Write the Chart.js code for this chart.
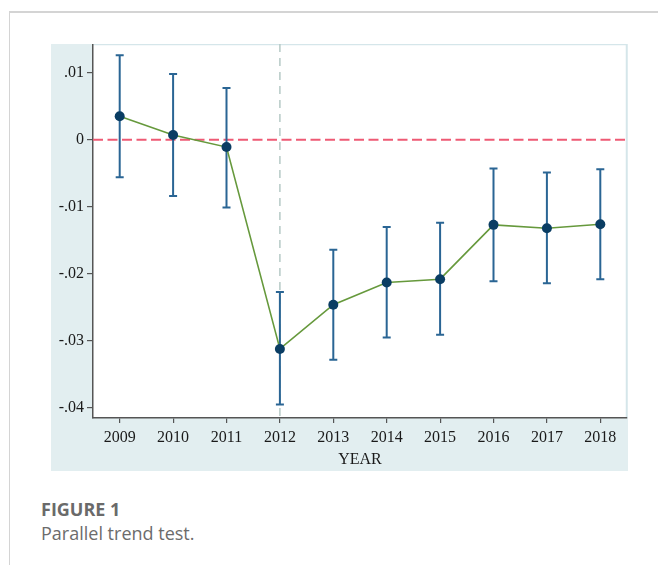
<!DOCTYPE html>
<html>
<head>
<meta charset="utf-8">
<script src="https://cdn.jsdelivr.net/npm/chart.js@4.4.1/dist/chart.umd.min.js"></script>
<style>
  html, body { margin: 0; padding: 0; background: #fff; width: 658px; height: 565px; overflow: hidden; }
  .frame { position: absolute; left: 9px; top: 11px; width: 649px; height: 554px;
           border-left: 1.5px solid #d4d4d4; border-top: 2px solid #d4d4d4; box-sizing: border-box; }
  .panel { position: absolute; left: 51px; top: 44px; width: 577px; height: 427px; background: #e2eef0; }
  #chart { position: absolute; left: 0; top: 0; }
  .caption { position: absolute; left: 41px; top: 497px; font-family: "Open Sans", Lato, sans-serif;
             font-size: 18px; line-height: 24px; color: #6c6c6c; }
  .caption b { color: #6a6a6a; font-weight: 700; }
</style>
</head>
<body>
<div class="frame"></div>
<div class="panel"><canvas id="chart" width="577" height="427"></canvas></div>
<div class="caption"><b>FIGURE 1</b><br>Parallel trend test.</div>

<script>
// Event-study coefficients by year with 95% confidence intervals
const years     = [2009, 2010, 2011, 2012, 2013, 2014, 2015, 2016, 2017, 2018];
const estimates = [0.0035, 0.0007, -0.0011, -0.0312, -0.0246, -0.0213, -0.0208, -0.0127, -0.0132, -0.0126];
const ciUpper   = [0.0126, 0.0098, 0.0077, -0.0227, -0.0164, -0.0130, -0.0124, -0.0043, -0.0049, -0.0044];
const ciLower   = [-0.0056, -0.0084, -0.0101, -0.0395, -0.0328, -0.0295, -0.0291, -0.0211, -0.0214, -0.0208];

const yTickValues = [-0.04, -0.03, -0.02, -0.01, 0, 0.01];
const yTickLabels = ['-.04', '-.03', '-.02', '-.01', '0', '.01'];
const policyYear  = 2012;
const xTitle      = 'YEAR';

const serif = "'Liberation Serif', 'Times New Roman', serif";

// White plotting region inside the tinted panel
const plotBackground = {
  id: 'plotBackground',
  beforeDraw(chart) {
    const { ctx, chartArea: a } = chart;
    ctx.save();
    ctx.fillStyle = '#ffffff';
    ctx.fillRect(a.left, a.top, a.right - a.left, a.bottom - a.top);
    ctx.strokeStyle = '#d5e6ea';
    ctx.lineWidth = 1.5;
    ctx.beginPath();
    ctx.moveTo(a.left, a.top + 0.5);
    ctx.lineTo(a.right - 0.5, a.top + 0.5);
    ctx.lineTo(a.right - 0.5, a.bottom);
    ctx.stroke();
    ctx.restore();
  }
};

// Zero reference line, policy-year marker and confidence-interval caps
const referenceAndErrors = {
  id: 'referenceAndErrors',
  beforeDatasetsDraw(chart) {
    const { ctx, chartArea: a, scales: { x, y } } = chart;
    ctx.save();

    const xp = x.getPixelForValue(policyYear);
    ctx.strokeStyle = '#b6cac6';
    ctx.lineWidth = 1.5;
    ctx.setLineDash([8, 6]);
    ctx.beginPath();
    ctx.moveTo(xp, a.top);
    ctx.lineTo(xp, a.bottom);
    ctx.stroke();

    const y0 = y.getPixelForValue(0);
    ctx.strokeStyle = '#ee5a74';
    ctx.lineWidth = 2;
    ctx.setLineDash([10, 4.5]);
    ctx.beginPath();
    ctx.moveTo(a.left, y0);
    ctx.lineTo(a.right, y0);
    ctx.stroke();

    ctx.setLineDash([]);
    ctx.strokeStyle = '#2a6594';
    ctx.lineWidth = 2;
    const cap = 4;
    years.forEach((yr, i) => {
      const px = x.getPixelForValue(yr);
      const hi = y.getPixelForValue(ciUpper[i]);
      const lo = y.getPixelForValue(ciLower[i]);
      ctx.beginPath();
      ctx.moveTo(px, hi); ctx.lineTo(px, lo);
      ctx.moveTo(px - cap, hi); ctx.lineTo(px + cap, hi);
      ctx.moveTo(px - cap, lo); ctx.lineTo(px + cap, lo);
      ctx.stroke();
    });
    ctx.restore();
  }
};

new Chart(document.getElementById('chart'), {
  type: 'line',
  data: {
    datasets: [{
      data: years.map((yr, i) => ({ x: yr, y: estimates[i] })),
      borderColor: '#66993c',
      borderWidth: 1.6,
      pointRadius: 5,
      pointHoverRadius: 5,
      pointBackgroundColor: '#0a3d63',
      pointBorderWidth: 0,
      tension: 0
    }]
  },
  options: {
    responsive: false,
    devicePixelRatio: 1,
    animation: false,
    layout: { autoPadding: false, padding: { left: 0, top: 0, right: 1, bottom: 0 } },
    plugins: { legend: { display: false }, tooltip: { enabled: false } },
    scales: {
      x: {
        type: 'linear',
        min: 2008.5,
        max: 2018.5,
        afterBuildTicks(scale) { scale.ticks = years.map(v => ({ value: v })); },
        afterFit(scale) { scale.height = 53; scale.paddingLeft = 0; scale.paddingRight = 0; },
        ticks: {
          color: '#1a1a1a',
          font: { family: serif, size: 16 },
          padding: 5,
          maxRotation: 0,
          autoSkip: false,
          callback: v => String(v)
        },
        grid: { drawOnChartArea: false, drawTicks: true, tickLength: 5, color: '#555', lineWidth: 1.2 },
        border: { display: true, color: '#555', width: 1.5 },
        title: {
          display: true,
          text: xTitle,
          color: '#1a1a1a',
          font: { family: serif, size: 16 },
          padding: { top: 0, bottom: 2 }
        }
      },
      y: {
        type: 'linear',
        min: -0.0415,
        max: 0.01427,
        afterBuildTicks(scale) { scale.ticks = yTickValues.map(v => ({ value: v })); },
        afterFit(scale) { scale.width = 42; scale.paddingTop = 0; scale.paddingBottom = 0; },
        ticks: {
          color: '#1a1a1a',
          font: { family: serif, size: 16 },
          padding: 3,
          autoSkip: false,
          callback: (v) => {
            const i = yTickValues.findIndex(t => Math.abs(t - v) < 1e-9);
            return i >= 0 ? yTickLabels[i] : '';
          }
        },
        grid: { drawOnChartArea: false, drawTicks: true, tickLength: 6, color: '#555', lineWidth: 1.2 },
        border: { display: true, color: '#555', width: 1.5 }
      }
    }
  },
  plugins: [plotBackground, referenceAndErrors]
});
</script>
</body>
</html>
